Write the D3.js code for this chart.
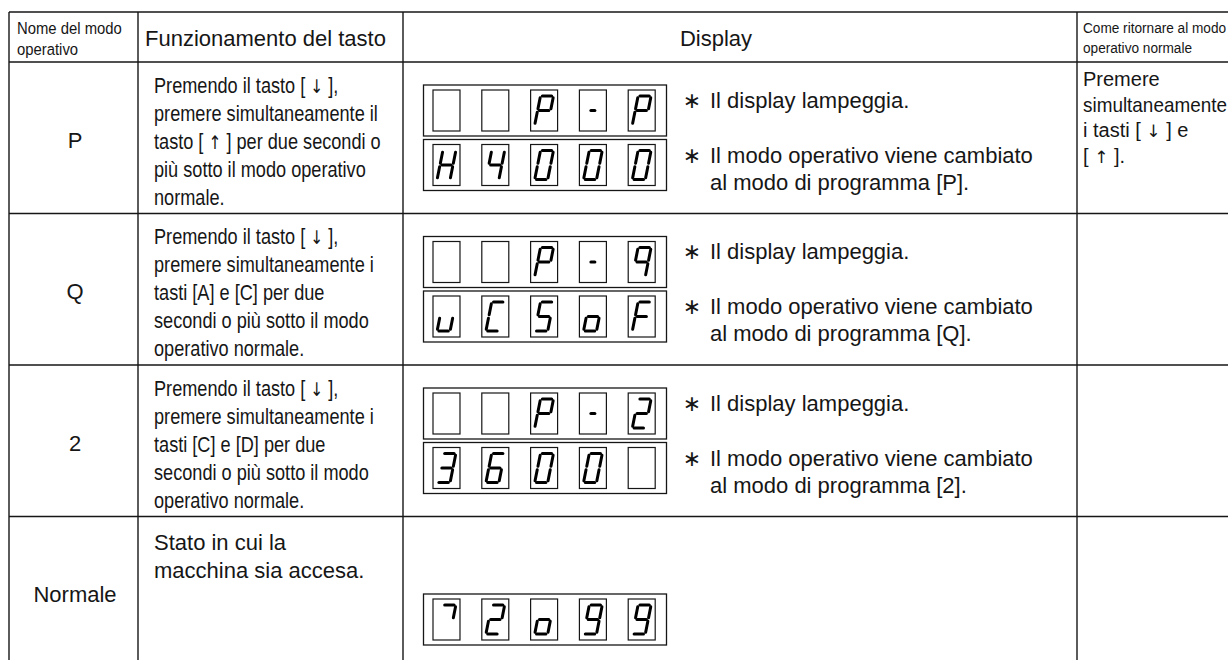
<!DOCTYPE html>
<html><head><meta charset="utf-8">
<script src="https://cdn.jsdelivr.net/npm/d3@7"></script>
<style>html,body{margin:0;padding:0;background:#fff}svg{display:block}</style>
</head><body><svg id="c" width="1228" height="660"></svg>
<script>
// ---------- data ----------
const headerCol1 = ["Nome del modo", "operativo"];
const headerCol2 = "Funzionamento del tasto";
const headerCol3 = "Display";
const headerCol4 = ["Come ritornare al modo", "operativo normale"];
const modes = ["P", "Q", "2", "Normale"];
const keyOps = [
  ["Premendo il tasto [ ↓ ],", "premere simultaneamente il", "tasto [ ↑ ]  per due secondi o", "più sotto il modo operativo", "normale."],
  ["Premendo il tasto [ ↓ ],", "premere simultaneamente i", "tasti [A] e [C]  per due", "secondi o più sotto il modo", "operativo normale."],
  ["Premendo il tasto [ ↓ ],", "premere simultaneamente i", "tasti [C] e [D] per due", "secondi o più sotto il modo", "operativo normale."],
  ["Stato in cui la", "macchina sia accesa."]
];
const displayUpper = [[" ", " ", "P", "-", "P"], [" ", " ", "P", "-", "q"], [" ", " ", "P", "-", "2"], null];
const displayLower = [["H", "4", "0", "0", "0"], ["u", "C", "5", "o", "F"], ["3", "6", "0", "0", " "], ["7", "2", "o", "9", "9"]];
const notesBlink = ["Il display lampeggia.", "Il display lampeggia.", "Il display lampeggia.", null];
const notesChange = [
  ["Il modo operativo viene cambiato", "al modo di programma [P]."],
  ["Il modo operativo viene cambiato", "al modo di programma [Q]."],
  ["Il modo operativo viene cambiato", "al modo di programma [2]."],
  null
];
const returnLines = ["Premere", "simultaneamente", "i tasti [ ↓ ] e", "[ ↑ ]."];
// seven-segment glyph table
const segMap = {
  " ": "", "-": "g", "0": "abcdef", "2": "abged", "3": "abgcd", "4": "fgbc", "5": "afgcd",
  "6": "afgedc", "7": "ab", "9": "abfgcd", "q": "abfgc", "H": "bcefg", "P": "abefg",
  "u": "cde", "C": "adef", "o": "cdeg", "F": "aefg"
};

// ---------- layout ----------
const svg = d3.select("#c");
const ink = "#161616";
const font = "'Liberation Sans', 'DejaVu Sans', sans-serif";
const arrowFont = "'DejaVu Sans', 'Noto Sans', sans-serif";
const colX = [9, 138, 403, 1077, 1240];
const topY = 12, headY = 62;
const y = d3.scaleBand().domain(modes).range([headY, headY + 151.5 * 4]).paddingInner(0).paddingOuter(0);
const cellX = d3.scaleBand().domain(d3.range(5)).range([433, 655.2]).paddingInner(0.447).paddingOuter(0);

// grid lines
const hLines = [topY, headY].concat(modes.slice(1).map(m => y(m)));
svg.append("g").selectAll("line").data(hLines).join("line")
  .attr("x1", colX[0]).attr("x2", 1228).attr("y1", d => d).attr("y2", d => d)
  .attr("stroke", ink).attr("stroke-width", 1.4);
svg.append("g").selectAll("line").data(colX.slice(0, 4)).join("line")
  .attr("x1", d => d).attr("x2", d => d).attr("y1", topY).attr("y2", 660)
  .attr("stroke", ink).attr("stroke-width", 1.4);

function txt(g, s, x, yc, size, opts = {}) {
  let sx = opts.sx || 1;
  const t = g.append("text")
    .attr("dy", "0.35em")
    .attr("text-anchor", opts.anchor || "start")
    .attr("font-family", font).attr("font-size", size).attr("fill", ink);
  s.split(/([↓↑])/).filter(p => p.length).forEach(p => {
    const sp = t.append("tspan");
    if (p === "↓" || p === "↑") sp.attr("font-family", arrowFont).attr("font-size", size * 0.85).attr("fill", ink).text(p + "\uFE0E");
    else sp.text(p);
  });
  if (opts.maxRight) {
    const len = t.node().getComputedTextLength() * sx;
    if (x + len > opts.maxRight) sx = sx * (opts.maxRight - x) / len;
  }
  t.attr("transform", `translate(${x},${yc}) scale(${sx},1)`);
  return t;
}

const T = svg.append("g");
// headers
headerCol1.forEach((s, i) => txt(T, s, 17, 28 + i * 21, 16.5, { sx: 0.9 }));
txt(T, headerCol2, 145, 38, 22);
txt(T, headerCol3, 716, 38, 22, { anchor: "middle" });
headerCol4.forEach((s, i) => txt(T, s, 1083, 28 + i * 20, 15.5, { sx: 0.88, maxRight: 1227 }));

// mode labels
modes.forEach(m => txt(T, m, 75, y(m) + 78, 22, { anchor: "middle" }));

// key operations
keyOps.forEach((lines, r) => {
  const top = y(modes[r]);
  const cond = r < 3;
  lines.forEach((s, i) => txt(T, s, 154, top + (cond ? 23 + 28 * i : 26 + 28 * i), 22, { sx: cond ? 0.825 : 1 }));
});

// return column
returnLines.forEach((s, i) => txt(T, s, 1083, headY + 17 + 25.5 * i, 20, { maxRight: 1227 }));

// notes
modes.forEach((m, r) => {
  const top = y(m);
  if (notesBlink[r]) {
    txt(T, "∗", 692, top + 38, 22, { anchor: "middle" });
    txt(T, notesBlink[r], 710, top + 38, 22);
  }
  if (notesChange[r]) {
    txt(T, "∗", 692, top + 93, 22, { anchor: "middle" });
    notesChange[r].forEach((s, i) => txt(T, s, 710, top + 93 + 27 * i, 22));
  }
});

// seven segment displays
const w = 13, h = 29, sl = 0.2;
function segLines(ch) {
  const gp = 1.8;
  const defs = {
    a: [[gp, 0], [w - gp, 0]], b: [[w, gp], [w, h / 2 - gp]], c: [[w, h / 2 + gp], [w, h - gp]],
    d: [[gp, h], [w - gp, h]], e: [[0, h / 2 + gp], [0, h - gp]], f: [[0, gp], [0, h / 2 - gp]],
    g: ch === "-" ? [[4.5, h / 2], [w - 4.5, h / 2]] : [[gp, h / 2], [w - gp, h / 2]]
  };
  return (segMap[ch] || "").split("").map(k => defs[k]);
}
function drawDisplay(chars, boxTop) {
  const g = svg.append("g");
  g.append("rect").attr("x", 423.5).attr("y", boxTop).attr("width", 243).attr("height", 51)
    .attr("fill", "none").attr("stroke", ink).attr("stroke-width", 1.3);
  chars.forEach((ch, i) => {
    const cx = cellX(i), cy = boxTop + 5;
    g.append("rect").attr("x", cx).attr("y", cy).attr("width", cellX.bandwidth()).attr("height", 41)
      .attr("fill", "none").attr("stroke", ink).attr("stroke-width", 1.2);
    const x0 = cx + (cellX.bandwidth() - (w + h * sl)) / 2, y0 = cy + (41 - h) / 2;
    segLines(ch).forEach(seg => {
      const p = seg.map(([px, py]) => [x0 + px + (h - py) * sl, y0 + py]);
      g.append("line").attr("x1", p[0][0]).attr("y1", p[0][1]).attr("x2", p[1][0]).attr("y2", p[1][1])
        .attr("stroke", "#000").attr("stroke-width", 3).attr("stroke-linecap", "round");
    });
  });
}
modes.forEach((m, r) => {
  const top = y(m);
  if (displayUpper[r]) drawDisplay(displayUpper[r], top + 23);
  drawDisplay(displayLower[r], top + 77.5);
});
</script></body></html>
